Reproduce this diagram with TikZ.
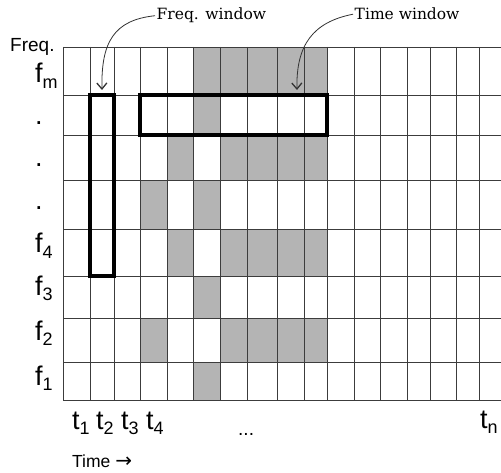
\documentclass[tikz,border=0pt]{standalone}
\usepackage{fontspec}
\setmainfont{Liberation Sans}
\newfontfamily\annfont{DejaVu Serif}
\newfontfamily\symfont{DejaVu Sans}
\usetikzlibrary{arrows.meta}
\definecolor{cellgray}{RGB}{180,180,180}
\definecolor{gridcol}{RGB}{60,60,60}
\newcommand{\fsub}[2]{#1\raisebox{-0.2em}{\fontsize{18}{18}\selectfont #2}}
\begin{document}
\begin{tikzpicture}[x=1pt,y=-1pt,
  gridl/.style={draw=gridcol,line width=0.8pt},
  winbox/.style={draw=black,line width=3.5pt},
  biglbl/.style={anchor=base west,inner sep=0pt,font=\fontsize{27}{27}\selectfont},
  dotlbl/.style={anchor=base,inner sep=0pt,font=\fontsize{27}{27}\selectfont},
  annlbl/.style={anchor=base west,inner sep=1.5pt,font=\annfont\fontsize{15.5}{15.5}\selectfont},
  callout/.style={draw=black!80,line width=0.8pt,-{Straight Barb[length=6pt,width=10pt,line width=1.3pt]}}]
\useasboundingbox (0,0) rectangle (501,473);
\fill[white] (0,0) rectangle (501,473);
\def\xs{{63,90,114,140,167,193,220,247,277,304,327,354,380,407,430,456,479,501}}
\def\ys{{47,95,135,180,229,276,318,362,400}}
% gray cells
\foreach \r/\c in {1/6,1/7,1/8,1/9,1/10,
                   2/6,
                   3/5,3/7,3/8,3/9,3/10,
                   4/4,4/6,
                   5/5,5/7,5/8,5/9,5/10,
                   6/6,
                   7/4,7/7,7/8,7/9,7/10,
                   8/6} {
  \pgfmathsetmacro\xa{\xs[\c-1]}
  \pgfmathsetmacro\xb{\xs[\c]}
  \pgfmathsetmacro\ya{\ys[\r-1]}
  \pgfmathsetmacro\yb{\ys[\r]}
  \fill[cellgray] (\xa,\ya) rectangle (\xb,\yb);
}
% grid lines
\foreach \x in {63,90,114,140,167,193,220,247,277,304,327,354,380,407,430,456,479}
  \draw[gridl] (\x,47) -- (\x,400);
\foreach \y in {47,95,135,180,229,276,318,362,400}
  \draw[gridl] (63,\y) -- (501,\y);
% windows
\draw[winbox] (90,95) rectangle (114,276);
\draw[winbox] (140,95) rectangle (327,135);
% axis labels
\node[anchor=base west,inner sep=0pt,font=\fontsize{19}{19}\selectfont] (freq) at (10,52) {Freq.};
\node[biglbl] (fm) at (35,83) {\fsub{f}{m}};
\node[dotlbl] (d1) at (39,125) {.};
\node[dotlbl] (d2) at (39,167) {.};
\node[dotlbl] (d3) at (39,210) {.};
\node[biglbl] (f4) at (35,253) {\fsub{f}{4}};
\node[biglbl] (f3) at (35,295) {\fsub{f}{3}};
\node[biglbl] (f2) at (35,340) {\fsub{f}{2}};
\node[biglbl] (f1) at (35,385) {\fsub{f}{1}};
\node[biglbl] (t1) at (72,429) {\fsub{t}{1}};
\node[biglbl] (t2) at (96,429) {\fsub{t}{2}};
\node[biglbl] (t3) at (121,429) {\fsub{t}{3}};
\node[biglbl] (t4) at (146,429) {\fsub{t}{4}};
\node[biglbl] (tn) at (480,428) {\fsub{t}{n}};
\node[anchor=base west,inner sep=0pt,font=\fontsize{19}{19}\selectfont] (ell) at (238,435) {...};
\node[anchor=base west,inner sep=0pt,font=\fontsize{17.5}{17.5}\selectfont] (time) at (72,467) {Time {\symfont\fontsize{20}{20}\selectfont →}};
% callouts
\node[annlbl] (fwin) at (155,20) {Freq. window};
\node[annlbl] (twin) at (353,20) {Time window};
\coordinate (fwtip) at (102,90);
\coordinate (twtip) at (297,90);
\draw[callout] (fwin.west) .. controls (114,20) and (101,42) .. (fwtip);
\draw[callout] (twin.west) .. controls (313,22) and (296,45) .. (twtip);
\end{tikzpicture}
\end{document}
